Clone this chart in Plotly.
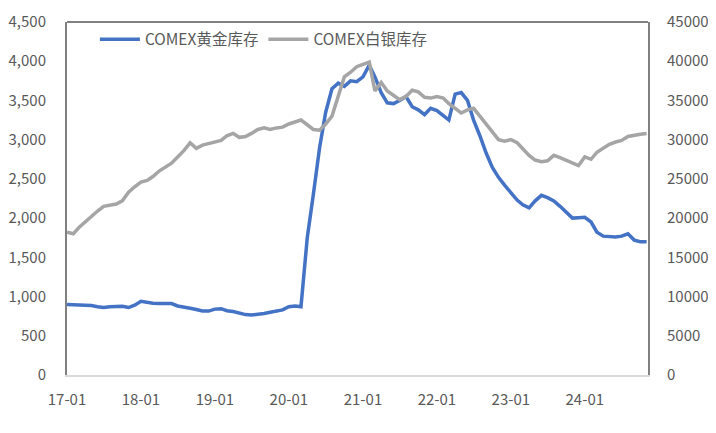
import pandas as pd
import plotly.graph_objects as go

# monthly points, 2017-01 .. 2024-11
months = pd.date_range("2017-01-01", "2024-11-01", freq="MS")

gold = [
    900, 895, 900, 890, 885, 870, 860, 870, 870, 875, 860, 890,
    940, 925, 915, 910, 910, 910, 880, 870, 850, 835, 815, 815,
    840, 845, 820, 810, 790, 770, 765, 770, 785, 800, 810, 830,
    870, 880, 870, 1750, 2300, 2900, 3350, 3650, 3720, 3680, 3750, 3740,
    3800, 3950, 3800, 3600, 3470, 3460, 3500, 3550, 3420, 3380, 3320, 3400,
    3370, 3300, 3250, 3580, 3600, 3500, 3250, 3050, 2830, 2650, 2520, 2420,
    2330, 2230, 2170, 2130, 2220, 2290, 2260, 2220, 2150, 2070, 2000, 2005,
    2010, 1950, 1820, 1770, 1760, 1760, 1770, 1800, 1720, 1700, 1700,
]

silver = [
    18200, 18000, 18800, 19500, 20300, 20900, 21500, 21700, 21800, 22200, 23300, 24000,
    24600, 24800, 25300, 26000, 26500, 27000, 27800, 28600, 29600, 28900, 29300, 29500,
    29600, 29900, 30500, 30800, 30300, 30400, 30800, 31300, 31500, 31300, 31500, 31600,
    32000, 32200, 32500, 31900, 31300, 31200, 32000, 33000, 35500, 38000, 38600, 39300,
    39600, 39900, 36200, 37300, 36200, 35700, 35100, 35500, 36300, 36100, 35400, 35300,
    35500, 35300, 34600, 34000, 33400, 33800, 34000, 33000, 32000, 31000, 30000, 29800,
    30000, 29600, 28800, 28000, 27400, 27200, 27300, 28000, 27700, 27400, 27000, 26700,
    27800, 27500, 28400, 28900, 29400, 29700, 29900, 30400, 30600, 30700, 30800,
]

names = ["COMEX黄金库存", "COMEX白银库存"]

font_family = "Noto Sans CJK SC, Noto Sans, sans-serif"
tick_color = "#595959"

fig = go.Figure()
fig.add_trace(go.Scatter(x=months, y=gold, name=names[0], mode="lines",
                         line=dict(color="#4472C4", width=3.5)))
fig.add_trace(go.Scatter(x=months, y=silver, name=names[1], mode="lines",
                         line=dict(color="#A5A5A5", width=3.5), yaxis="y2"))

# page body has an 8px margin, so the figure is a bit smaller than the window
fig.update_layout(
    width=708, height=425,
    margin=dict(l=59, r=68, t=14, b=58, autoexpand=False),
    plot_bgcolor="white", paper_bgcolor="white",
    font=dict(family=font_family, size=15, color=tick_color),
    showlegend=True,
    legend=dict(orientation="h", x=0.048, y=0.998, xanchor="left", yanchor="top",
                bgcolor="rgba(0,0,0,0)", font=dict(size=15.5, color=tick_color),
                itemwidth=40, traceorder="normal"),
    xaxis=dict(range=["2017-01-01", "2024-11-08"], dtick="M12", tick0="2017-01-01",
               tickformat="%y-%m", showgrid=False, showline=True,
               linecolor="#D9D9D9", linewidth=1.5, ticks="", zeroline=False,
               automargin=False, ticklabelstandoff=10,
               tickfont=dict(size=15, color=tick_color)),
    yaxis=dict(range=[0, 4500], dtick=500, tickformat=",", showgrid=False,
               showline=True, linecolor="#808080", linewidth=2, ticks="",
               zeroline=False, automargin=False, ticklabelstandoff=16,
               tickfont=dict(size=15, color=tick_color)),
    yaxis2=dict(range=[0, 45000], dtick=5000, tickformat="d", overlaying="y",
                side="right", showgrid=False, showline=True, linecolor="#808080",
                linewidth=2, ticks="", zeroline=False, automargin=False,
                ticklabelstandoff=14, tickfont=dict(size=15, color=tick_color)),
    shapes=[dict(type="line", xref="paper", yref="paper", x0=0, x1=1, y0=1, y1=1,
                 line=dict(color="#808080", width=2))],
)

fig.write_html("out.html")
